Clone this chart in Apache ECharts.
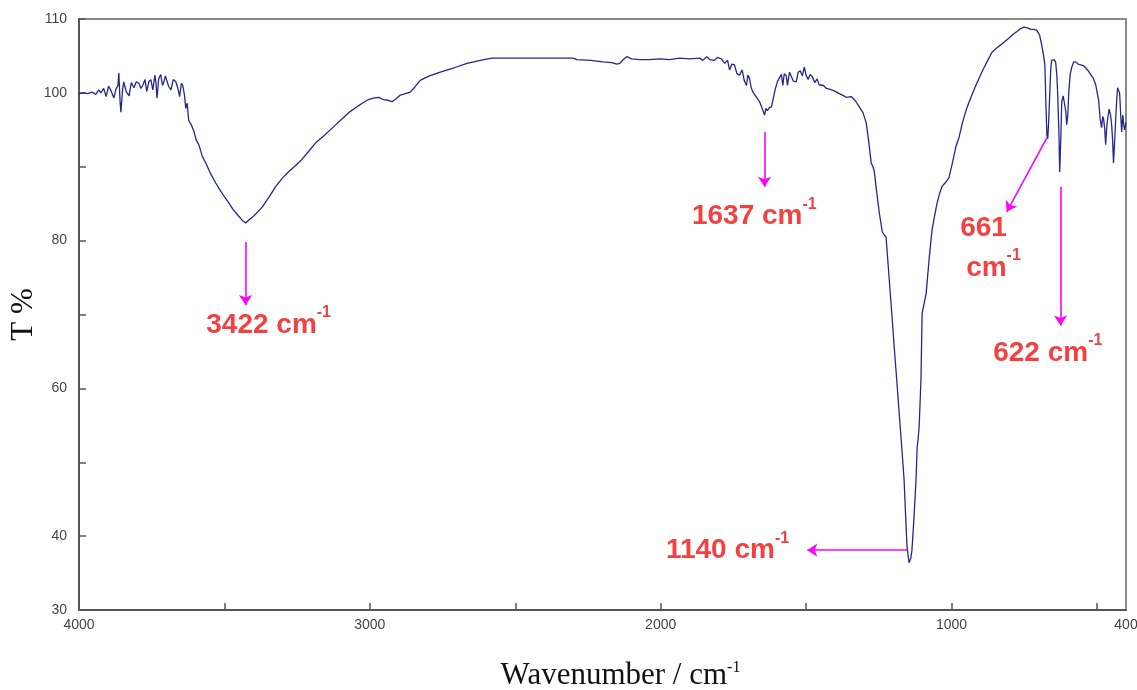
<!DOCTYPE html>
<html>
<head>
<meta charset="utf-8">
<script src="https://cdn.jsdelivr.net/npm/echarts@6/dist/echarts.min.js"></script>
<style>
  html, body { margin: 0; padding: 0; background: #fff; }
  #chart1 { width: 1137px; height: 690px; }
</style>
</head>
<body>
<div id="chart1"></div>
<script>
// FTIR spectrum
const wavenumbers = [
  4000, 3985, 3970, 3955, 3942, 3932, 3925, 3915, 3907, 3898, 3890, 3880, 3873, 3866, 3863, 3859, 3856, 3850, 3846, 3838,
  3828, 3820, 3811, 3803, 3794, 3787, 3780, 3773, 3767, 3760, 3753, 3746, 3739, 3735, 3732, 3726, 3719, 3713, 3708, 3703,
  3698, 3692, 3684, 3676, 3667, 3660, 3654, 3648, 3643, 3637, 3633, 3628, 3623, 3614, 3605, 3597, 3588, 3576, 3564, 3548,
  3530, 3508, 3485, 3470, 3455, 3440, 3427, 3413, 3400, 3385, 3369, 3345, 3324, 3300, 3280, 3260, 3238, 3210, 3187, 3155,
  3125, 3095, 3067, 3045, 3022, 3005, 2988, 2970, 2954, 2938, 2923, 2910, 2895, 2878, 2861, 2845, 2827, 2795, 2758, 2710,
  2666, 2620, 2580, 2302, 2288, 2240, 2199, 2168, 2151, 2140, 2134, 2117, 2100, 2072, 2040, 2003, 1970, 1935, 1900, 1866,
  1855, 1842, 1830, 1815, 1805, 1791, 1780, 1770, 1763, 1755, 1746, 1738, 1729, 1720, 1712, 1705, 1700, 1695, 1688, 1681,
  1670, 1660, 1650, 1643, 1638, 1633, 1626, 1619, 1612, 1606, 1598, 1592, 1585, 1580, 1575, 1568, 1564, 1557, 1551, 1544,
  1534, 1527, 1520, 1513, 1506, 1500, 1493, 1486, 1479, 1470, 1462, 1455, 1440, 1430, 1420, 1405, 1386, 1375, 1362, 1345,
  1330, 1317, 1304, 1293, 1285, 1276, 1270, 1266, 1257, 1248, 1238, 1232, 1225, 1214, 1205, 1197, 1188, 1180, 1171, 1163,
  1158, 1153, 1146, 1140, 1136, 1129, 1122, 1118, 1115, 1111, 1105, 1101, 1094, 1087, 1077, 1067, 1058, 1050, 1040, 1033,
  1020, 1009, 997, 985, 974, 962, 947, 930, 913, 896, 878, 861, 844, 827, 803, 789, 775, 762, 751, 739,
  727, 717, 707, 697, 690, 684, 679, 675, 672, 669, 666, 662, 659, 656, 652, 647, 642, 638, 635, 631,
  628, 624, 621, 616, 611, 607, 604, 600, 597, 592, 587, 580, 573, 565, 556, 547, 539, 530, 522, 513,
  504, 499, 494, 489, 484, 480, 477, 473, 470, 466, 463, 458, 453, 449, 446, 443, 439, 436, 432, 429,
  425, 422, 418, 415, 411, 408, 405, 400
];
const transmittance = [
  99.9, 100.0, 99.9, 100.1, 99.8, 100.4, 100.0, 100.6, 99.5, 100.9, 100.3, 99.3, 100.5, 101.0, 102.7, 99.0, 97.4, 100.5, 101.5, 100.2,
  99.6, 101.4, 100.7, 101.5, 101.3, 100.6, 101.1, 101.8, 100.2, 101.5, 101.8, 100.4, 102.4, 101.2, 99.3, 101.9, 102.5, 101.0, 101.5, 102.3,
  102.2, 100.9, 100.4, 101.8, 101.5, 100.6, 99.5, 101.3, 101.0, 99.6, 97.9, 98.6, 96.3, 95.7, 94.8, 93.6, 93.0, 91.4, 90.5, 89.1,
  87.8, 86.4, 85.1, 84.2, 83.5, 82.8, 82.4, 82.9, 83.3, 83.9, 84.6, 86.0, 87.3, 88.5, 89.3, 90.0, 90.8, 92.1, 93.2, 94.3,
  95.4, 96.5, 97.5, 98.1, 98.7, 99.1, 99.3, 99.4, 99.1, 99.0, 98.8, 99.2, 99.7, 99.9, 100.1, 100.8, 101.7, 102.3, 102.8, 103.4,
  104.0, 104.4, 104.7, 104.7, 104.5, 104.4, 104.2, 104.1, 103.9, 104.0, 104.3, 104.9, 104.6, 104.5, 104.5, 104.6, 104.5, 104.7, 104.6, 104.7,
  104.4, 104.9, 104.5, 104.4, 104.8, 104.6, 104.0, 104.4, 103.1, 103.9, 103.8, 102.6, 102.4, 103.1, 101.6, 101.0, 102.4, 102.0, 100.6, 100.0,
  99.4, 98.8, 97.8, 97.0, 97.9, 97.6, 98.0, 98.1, 99.4, 100.5, 101.6, 101.7, 102.5, 101.0, 102.6, 102.3, 101.0, 102.8, 102.9, 101.6,
  101.5, 102.8, 103.0, 102.3, 103.5, 102.4, 101.8, 102.5, 102.2, 101.4, 101.9, 101.1, 101.0, 100.6, 100.5, 100.3, 99.9, 99.7, 99.4, 99.5,
  98.9, 98.1, 97.3, 95.9, 93.5, 90.5, 90.0, 89.5, 86.5, 83.7, 81.2, 80.8, 80.5, 74.7, 70.0, 65.6, 61.0, 56.7, 52.0, 47.6,
  43.0, 38.6, 36.4, 37.0, 38.1, 42.5, 47.6, 52.1, 53.0, 55.0, 61.2, 70.2, 71.5, 72.9, 77.5, 81.4, 83.4, 85.0, 86.5, 87.3,
  87.9, 88.5, 90.5, 92.7, 94.0, 96.0, 98.0, 99.7, 101.3, 102.8, 104.2, 105.5, 106.1, 106.6, 107.4, 107.9, 108.3, 108.7, 108.9, 108.8,
  108.6, 108.6, 108.5, 107.8, 106.5, 105.2, 103.8, 98.0, 94.3, 93.8, 96.0, 100.0, 103.0, 104.4, 104.3, 104.5, 104.2, 102.5, 100.0, 95.0,
  89.3, 94.0, 98.8, 99.6, 99.4, 97.5, 95.7, 97.0, 100.0, 102.5, 103.4, 104.2, 104.2, 103.9, 103.8, 103.7, 103.4, 103.0, 102.5, 102.0,
  101.1, 100.0, 99.0, 96.5, 95.3, 96.8, 96.5, 95.0, 93.0, 95.5, 96.5, 97.8, 97.0, 95.5, 93.5, 90.5, 93.5, 96.0, 99.0, 100.7,
  100.8, 100.0, 99.8, 94.7, 97.0, 95.7, 95.0, 96.0
];

// peak annotations (data coordinates)
const peakNames = ['3422', '1637', '661', '622', '1140'];
const arrowFrom = [[3427, 79.8], [1643, 94.7], [672, 93.9], [625, 87.3], [1153, 38.1]];
const arrowTo = [[3427, 71.3], [1643, 87.3], [810, 83.9], [625, 68.5], [1496, 38.1]];
const labelAt = [[3348, 68.6], [1678, 83.3], [890, 79.0], [669, 64.8], [1770, 38.1]];
const twoLine = [false, false, true, false, false];

const xTicks = [4000, 3500, 3000, 2500, 2000, 1500, 1000, 500];
const xLabels = [4000, 3000, 2000, 1000, 400];
const yTicks = [30, 40, 50, 60, 70, 80, 90, 100, 110];
const yLabels = [30, 40, 60, 80, 100, 110];

let spectrum = [];
for (let i = 0; i < wavenumbers.length; i++) {
  spectrum.push([wavenumbers[i], transmittance[i]]);
}
let arrows = [];
let peakLabels = [];
for (let i = 0; i < peakNames.length; i++) {
  arrows.push({ coords: [arrowFrom[i], arrowTo[i]] });
  peakLabels.push({
    value: labelAt[i],
    label: {
      formatter: twoLine[i]
        ? '{n|' + peakNames[i] + '}\n{c|cm}{s|-1}'
        : '{n|' + peakNames[i] + ' cm}{s|-1}'
    }
  });
}

let dom1 = document.getElementById('chart1');
let Chart1 = echarts.init(dom1);

let option1 = {
  animation: false,
  backgroundColor: '#fff',
  grid: {
    left: 79,
    right: 11,
    top: 19,
    bottom: 80,
    outerBoundsMode: 'none',
    containLabel: false,
    show: true,
    borderColor: '#8a8a8a',
    borderWidth: 2
  },
  xAxis: {
    type: 'value',
    inverse: true,
    min: 400,
    max: 4000,
    name: '{a|Wavenumber / cm}{b|-1}',
    nameLocation: 'middle',
    nameGap: 50,
    nameMoveOverlap: false,
    nameTextStyle: {
      padding: [0, 0, 0, 36],
      rich: {
        a: { fontFamily: 'Liberation Serif', fontSize: 31, color: '#111' },
        b: { fontFamily: 'Liberation Serif', fontSize: 16, color: '#111', verticalAlign: 'top', padding: [0, 0, 16, 0] }
      }
    },
    axisLine: { onZero: false, lineStyle: { color: '#555', width: 2 } },
    axisTick: { inside: true, length: 7, customValues: xTicks, lineStyle: { color: '#555', width: 1.5 } },
    axisLabel: {
      customValues: xLabels, margin: 8, fontFamily: 'Liberation Sans', fontSize: 14, color: '#444',
      formatter: function (v) { return String(v); }
    },
    splitLine: { show: false }
  },
  yAxis: {
    type: 'value',
    min: 30,
    max: 110,
    name: 'T %',
    nameLocation: 'middle',
    nameGap: 40,
    nameRotate: 90,
    nameMoveOverlap: false,
    nameTextStyle: { fontFamily: 'Liberation Serif', fontSize: 31, color: '#111' },
    axisLine: { onZero: false, lineStyle: { color: '#555', width: 2 } },
    axisTick: { inside: true, length: 7, customValues: yTicks, lineStyle: { color: '#555', width: 1.5 } },
    axisLabel: {
      customValues: yLabels, margin: 12, fontFamily: 'Liberation Sans', fontSize: 14, color: '#444',
      formatter: function (v) { return String(v); }
    },
    splitLine: { show: false }
  },
  series: [
    {
      name: 'spectrum',
      type: 'line',
      showSymbol: false,
      clip: true,
      lineStyle: { color: '#26268a', width: 1.3 },
      data: spectrum
    },
    {
      name: 'arrows',
      type: 'lines',
      coordinateSystem: 'cartesian2d',
      symbol: ['none', 'arrow'],
      symbolSize: 10,
      lineStyle: { color: '#ff00ff', width: 1.6, opacity: 1 },
      data: arrows
    },
    {
      name: 'peaks',
      type: 'scatter',
      symbolSize: 0,
      label: {
        show: true,
        position: 'inside',
        align: 'center',
        verticalAlign: 'middle',
        rich: {
          n: { fontFamily: 'Liberation Sans', fontWeight: 'bold', fontSize: 28, color: '#f01010', lineHeight: 40 },
          c: { fontFamily: 'Liberation Sans', fontWeight: 'bold', fontSize: 28, color: '#f01010', lineHeight: 40, padding: [0, 0, 0, 20] },
          s: { fontFamily: 'Liberation Sans', fontWeight: 'bold', fontSize: 16, color: '#f01010', verticalAlign: 'top', padding: [0, 0, 16, 0] }
        }
      },
      data: peakLabels
    }
  ]
};

Chart1.setOption(option1);
</script>
</body>
</html>
